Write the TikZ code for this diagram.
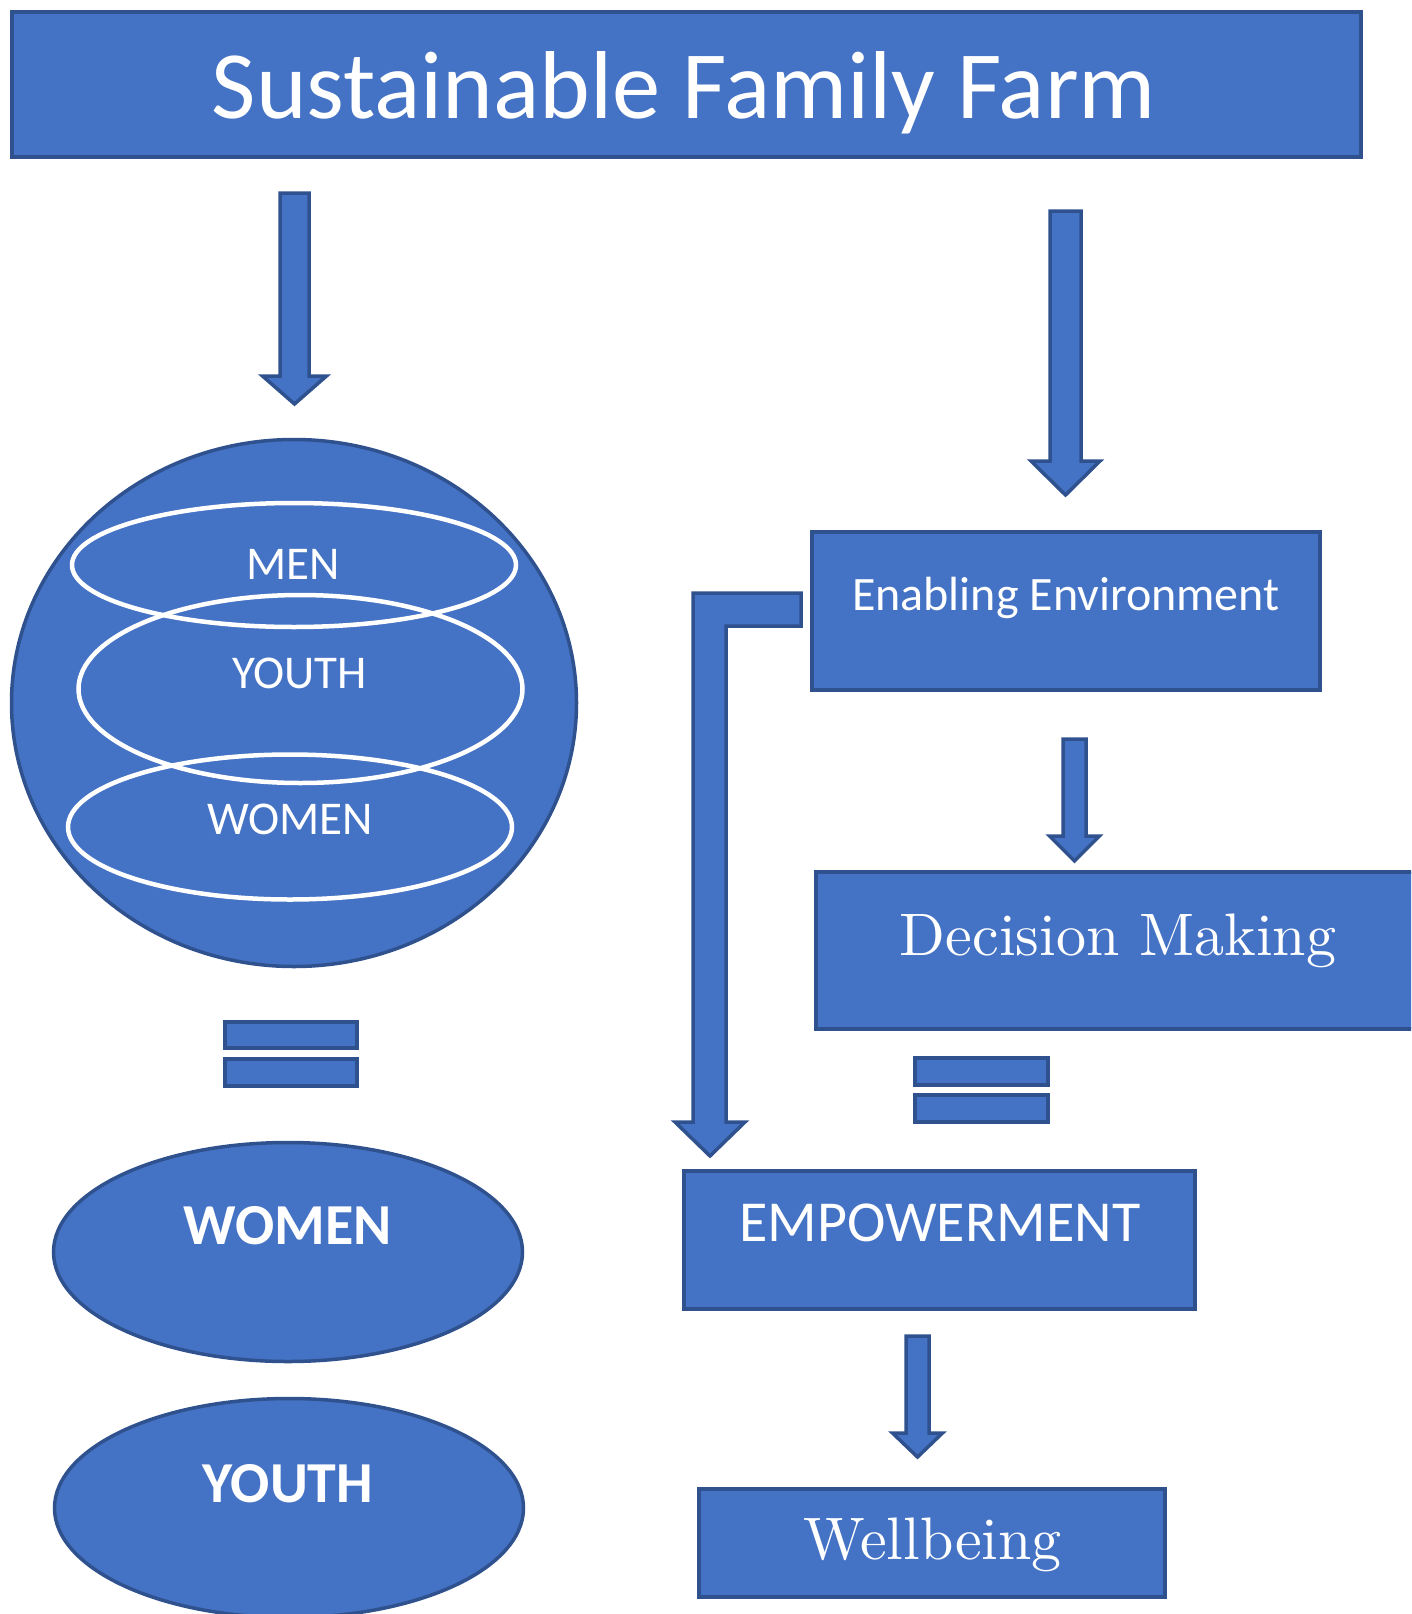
\documentclass[tikz,border=0pt]{standalone}
\usepackage{fontspec}
\newfontfamily\calibri{Carlito}
\newfontfamily\lmten[Extension=.otf]{lmroman10-regular}
\usetikzlibrary{shapes.geometric}
\definecolor{fillblue}{HTML}{4472C4}
\definecolor{edgeblue}{HTML}{2F528F}

% block arrow pointing down: centre x, top y, head base y, tip y, shaft half width, head half width
\newcommand\downblock[6]{%
  \draw[solidshape] (#1-#5,#2) -- (#1+#5,#2) -- (#1+#5,#3) -- (#1+#6,#3) -- (#1,#4)
    -- (#1-#6,#3) -- (#1-#5,#3) -- cycle;}

\begin{document}
\begin{tikzpicture}[x=1pt,y=-1pt,
  solidshape/.style={fill=fillblue, draw=edgeblue, line width=3.5pt, line join=miter},
  box/.style={solidshape, rectangle, inner sep=0pt},
  oval/.style={solidshape, ellipse, inner sep=0pt},
  ring/.style={draw=white, line width=4.5pt, ellipse, inner sep=0pt},
  lbl/.style={text=white, inner sep=0pt, anchor=base},
  sanslbl/.style={lbl, font=\calibri\fontsize{47}{50}\selectfont},
  boldlbl/.style={lbl, font=\calibri\bfseries\fontsize{58}{60}\selectfont},
  seriflbl/.style={lbl, font=\lmten\fontsize{60}{64}\selectfont},
]
\useasboundingbox (0,0) rectangle (1411,1614);
\clip (0,0) rectangle (1411,1614);

% title bar
\node[box, minimum width=1349pt, minimum height=145pt] (title) at (686.5,84.5) {};
\node[lbl, font=\calibri\fontsize{96.5}{100}\selectfont] (titletext) at (684,118) {Sustainable Family Farm};

% left column: population sphere
\downblock{294.5}{193}{376}{404}{14.5}{32}
\node[oval, minimum width=565pt, minimum height=527pt] (sphere) at (294,703) {};
\node[ring, minimum width=444pt, minimum height=124pt] (menring) at (294,565) {};
\node[ring, minimum width=444pt, minimum height=188pt] (youthring) at (300.5,689) {};
\node[ring, minimum width=444pt, minimum height=145pt] (womenring) at (290,827) {};
\node[sanslbl] (mentext) at (293,579) {MEN};
\node[sanslbl] (youthtext) at (299.5,688) {YOUTH};
\node[sanslbl] (womentext) at (290,834) {WOMEN};

% equals sign
\node[box, minimum width=132pt, minimum height=26pt] (eqla) at (291,1035) {};
\node[box, minimum width=132pt, minimum height=27pt] (eqlb) at (291,1072.5) {};

\node[oval, minimum width=469pt, minimum height=219pt] (women) at (288,1252) {};
\node[boldlbl] (womenlbl) at (288,1244) {WOMEN};
\node[oval, minimum width=469pt, minimum height=219pt] (youth) at (289,1508) {};
\node[boldlbl] (youthlbl) at (288,1502) {YOUTH};

% right column: process chain
\downblock{1065.5}{211}{461}{495}{15.5}{34.5}
\node[box, minimum width=508pt, minimum height=158pt] (enabling) at (1066,611) {};
\node[lbl, font=\calibri\fontsize{48}{50}\selectfont] (enablingtext) at (1066,610) {Enabling Environment};

% bent arrow from the enabling box down to empowerment
\draw[solidshape] (801,593) -- (693,593) -- (693,1122) -- (675,1122) -- (710,1156)
  -- (745,1122) -- (726,1122) -- (726,626) -- (801,626) -- cycle;

\downblock{1074.5}{739}{836}{861}{11.5}{25}
\node[box, minimum width=624pt, minimum height=157pt] (decision) at (1128,950.5) {};
\node[seriflbl] (decisiontext) at (1118,955) {Decision Making};

\node[box, minimum width=133pt, minimum height=27pt] (eqra) at (981.5,1071.5) {};
\node[box, minimum width=133pt, minimum height=27pt] (eqrb) at (981.5,1108.5) {};

\node[box, minimum width=511pt, minimum height=138pt] (empower) at (939.5,1240) {};
\node[lbl, font=\calibri\fontsize{58}{60}\selectfont] (empowertext) at (940,1241) {EMPOWERMENT};

\downblock{917.5}{1336}{1433}{1457}{11.5}{25}
\node[box, minimum width=466pt, minimum height=108pt] (wellbeing) at (932,1543) {};
\node[seriflbl] (wellbeingtext) at (932.5,1559) {Wellbeing};
\end{tikzpicture}
\end{document}
